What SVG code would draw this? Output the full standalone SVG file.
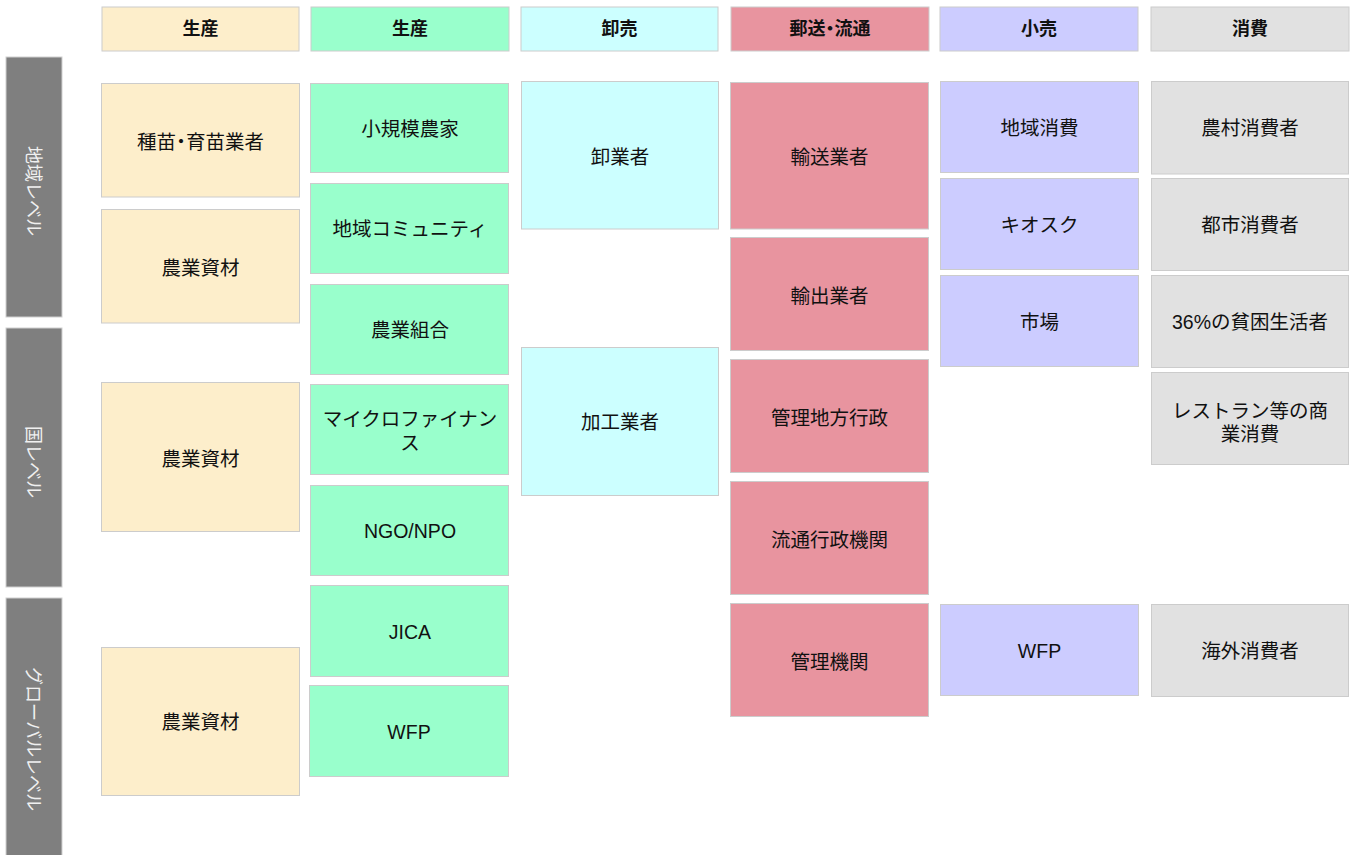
<svg xmlns="http://www.w3.org/2000/svg" width="1351" height="855" viewBox="0 0 1351 855">
<style>
  text { font-family: "Liberation Sans", "Noto Sans CJK JP", sans-serif; font-size: 19.5px; fill: #111111; text-anchor: middle; dominant-baseline: central; }
  .hd { font-weight: bold; font-size: 18px; }
  .lv text { fill: #f0f0f0; font-size: 18px; }
  .pt { font-feature-settings: "palt"; }
  g rect { stroke: #cccccc; stroke-width: 1; }
  .lv rect { fill: #7f7f7f; stroke: #d0d0d0; }
  .c1 rect { fill: #fdeecb; }
  .c2 rect { fill: #99ffcc; }
  .c3 rect { fill: #ccffff; }
  .c4 rect { fill: #e8949f; }
  .c5 rect { fill: #ccccff; }
  .c6 rect { fill: #e1e1e1; }
</style>

<!-- level bars -->
<g class="lv" id="level-local"><rect x="6" y="57" width="56" height="260"/><text transform="translate(33,191) rotate(90)">地域レベル</text></g>
<g class="lv" id="level-national"><rect x="6" y="328" width="56" height="259"/><text transform="translate(33,462) rotate(90)">国レベル</text></g>
<g class="lv" id="level-global"><rect x="6" y="598" width="56" height="270"/><text transform="translate(33,739) rotate(90)">グローバルレベル</text></g>

<!-- headers -->
<g class="c1" id="h1"><rect x="102" y="7" width="197" height="44"/><text class="hd" x="200.5" y="29">生産</text></g>
<g class="c2" id="h2"><rect x="311" y="7" width="198" height="44"/><text class="hd" x="410" y="29">生産</text></g>
<g class="c3" id="h3"><rect x="521" y="7" width="197" height="44"/><text class="hd" x="619.5" y="29">卸売</text></g>
<g class="c4" id="h4"><rect x="731" y="7" width="198" height="44"/><text class="hd" x="830" y="29">郵送<tspan class="pt">・</tspan>流通</text></g>
<g class="c5" id="h5"><rect x="940" y="7" width="198" height="44"/><text class="hd" x="1039" y="29">小売</text></g>
<g class="c6" id="h6"><rect x="1151" y="7" width="198" height="44"/><text class="hd" x="1250" y="29">消費</text></g>

<!-- column 1 -->
<g class="c1" id="n1-1"><rect x="101.5" y="83.5" width="198" height="113.5"/><text x="200.5" y="142">種苗<tspan class="pt">・</tspan>育苗業者</text></g>
<g class="c1" id="n1-2"><rect x="101.5" y="209.5" width="198" height="113.5"/><text x="200.5" y="268">農業資材</text></g>
<g class="c1" id="n1-3"><rect x="101.5" y="382.5" width="198" height="149"/><text x="200.5" y="459">農業資材</text></g>
<g class="c1" id="n1-4"><rect x="101.5" y="647.5" width="198" height="148"/><text x="200.5" y="722">農業資材</text></g>

<!-- column 2 -->
<g class="c2" id="n2-1"><rect x="310.5" y="83.5" width="198" height="89"/><text x="410" y="129">小規模農家</text></g>
<g class="c2" id="n2-2"><rect x="310.5" y="183.5" width="198" height="90"/><text x="410" y="229">地域コミュニティ</text></g>
<g class="c2" id="n2-3"><rect x="310.5" y="284.5" width="198" height="90"/><text x="410" y="330">農業組合</text></g>
<g class="c2" id="n2-4"><rect x="310.5" y="384.5" width="198" height="90"/><text x="410" y="419">マイクロファイナン</text><text x="410" y="443">ス</text></g>
<g class="c2" id="n2-5"><rect x="310.5" y="485.5" width="198" height="90"/><text x="410" y="531">NGO/NPO</text></g>
<g class="c2" id="n2-6"><rect x="310.5" y="585.5" width="198" height="91"/><text x="410" y="632">JICA</text></g>
<g class="c2" id="n2-7"><rect x="309.5" y="685.5" width="199" height="91"/><text x="409" y="732">WFP</text></g>

<!-- column 3 -->
<g class="c3" id="n3-1"><rect x="521.5" y="81.5" width="197" height="147.5"/><text x="620" y="157">卸業者</text></g>
<g class="c3" id="n3-2"><rect x="521.5" y="347.5" width="197" height="148"/><text x="620" y="422">加工業者</text></g>

<!-- column 4 -->
<g class="c4" id="n4-1"><rect x="730.5" y="82.5" width="198" height="146.5"/><text x="829.5" y="157">輸送業者</text></g>
<g class="c4" id="n4-2"><rect x="730.5" y="237.5" width="198" height="113"/><text x="829.5" y="296">輸出業者</text></g>
<g class="c4" id="n4-3"><rect x="730.5" y="359.5" width="198" height="113"/><text x="829.5" y="418">管理地方行政</text></g>
<g class="c4" id="n4-4"><rect x="730.5" y="481.5" width="198" height="113"/><text x="829.5" y="540">流通行政機関</text></g>
<g class="c4" id="n4-5"><rect x="730.5" y="603.5" width="198" height="113"/><text x="829.5" y="662">管理機関</text></g>

<!-- column 5 -->
<g class="c5" id="n5-1"><rect x="940.5" y="81.5" width="198" height="91"/><text x="1039.5" y="128">地域消費</text></g>
<g class="c5" id="n5-2"><rect x="940.5" y="178.5" width="198" height="91"/><text x="1039.5" y="225">キオスク</text></g>
<g class="c5" id="n5-3"><rect x="940.5" y="275.5" width="198" height="91"/><text x="1039.5" y="322">市場</text></g>
<g class="c5" id="n5-4"><rect x="940.5" y="604.5" width="198" height="91"/><text x="1039.5" y="651">WFP</text></g>

<!-- column 6 -->
<g class="c6" id="n6-1"><rect x="1151.5" y="81.5" width="197" height="92.5"/><text x="1250" y="128">農村消費者</text></g>
<g class="c6" id="n6-2"><rect x="1151.5" y="178.5" width="197" height="92"/><text x="1250" y="225">都市消費者</text></g>
<g class="c6" id="n6-3"><rect x="1151.5" y="275.5" width="197" height="92"/><text x="1250" y="322">36%の貧困生活者</text></g>
<g class="c6" id="n6-4"><rect x="1151.5" y="372.5" width="197" height="92"/><text x="1250" y="411">レストラン等の商</text><text x="1250" y="434">業消費</text></g>
<g class="c6" id="n6-5"><rect x="1151.5" y="604.5" width="197" height="92"/><text x="1250" y="651">海外消費者</text></g>

<g id="connectors"/>
</svg>
